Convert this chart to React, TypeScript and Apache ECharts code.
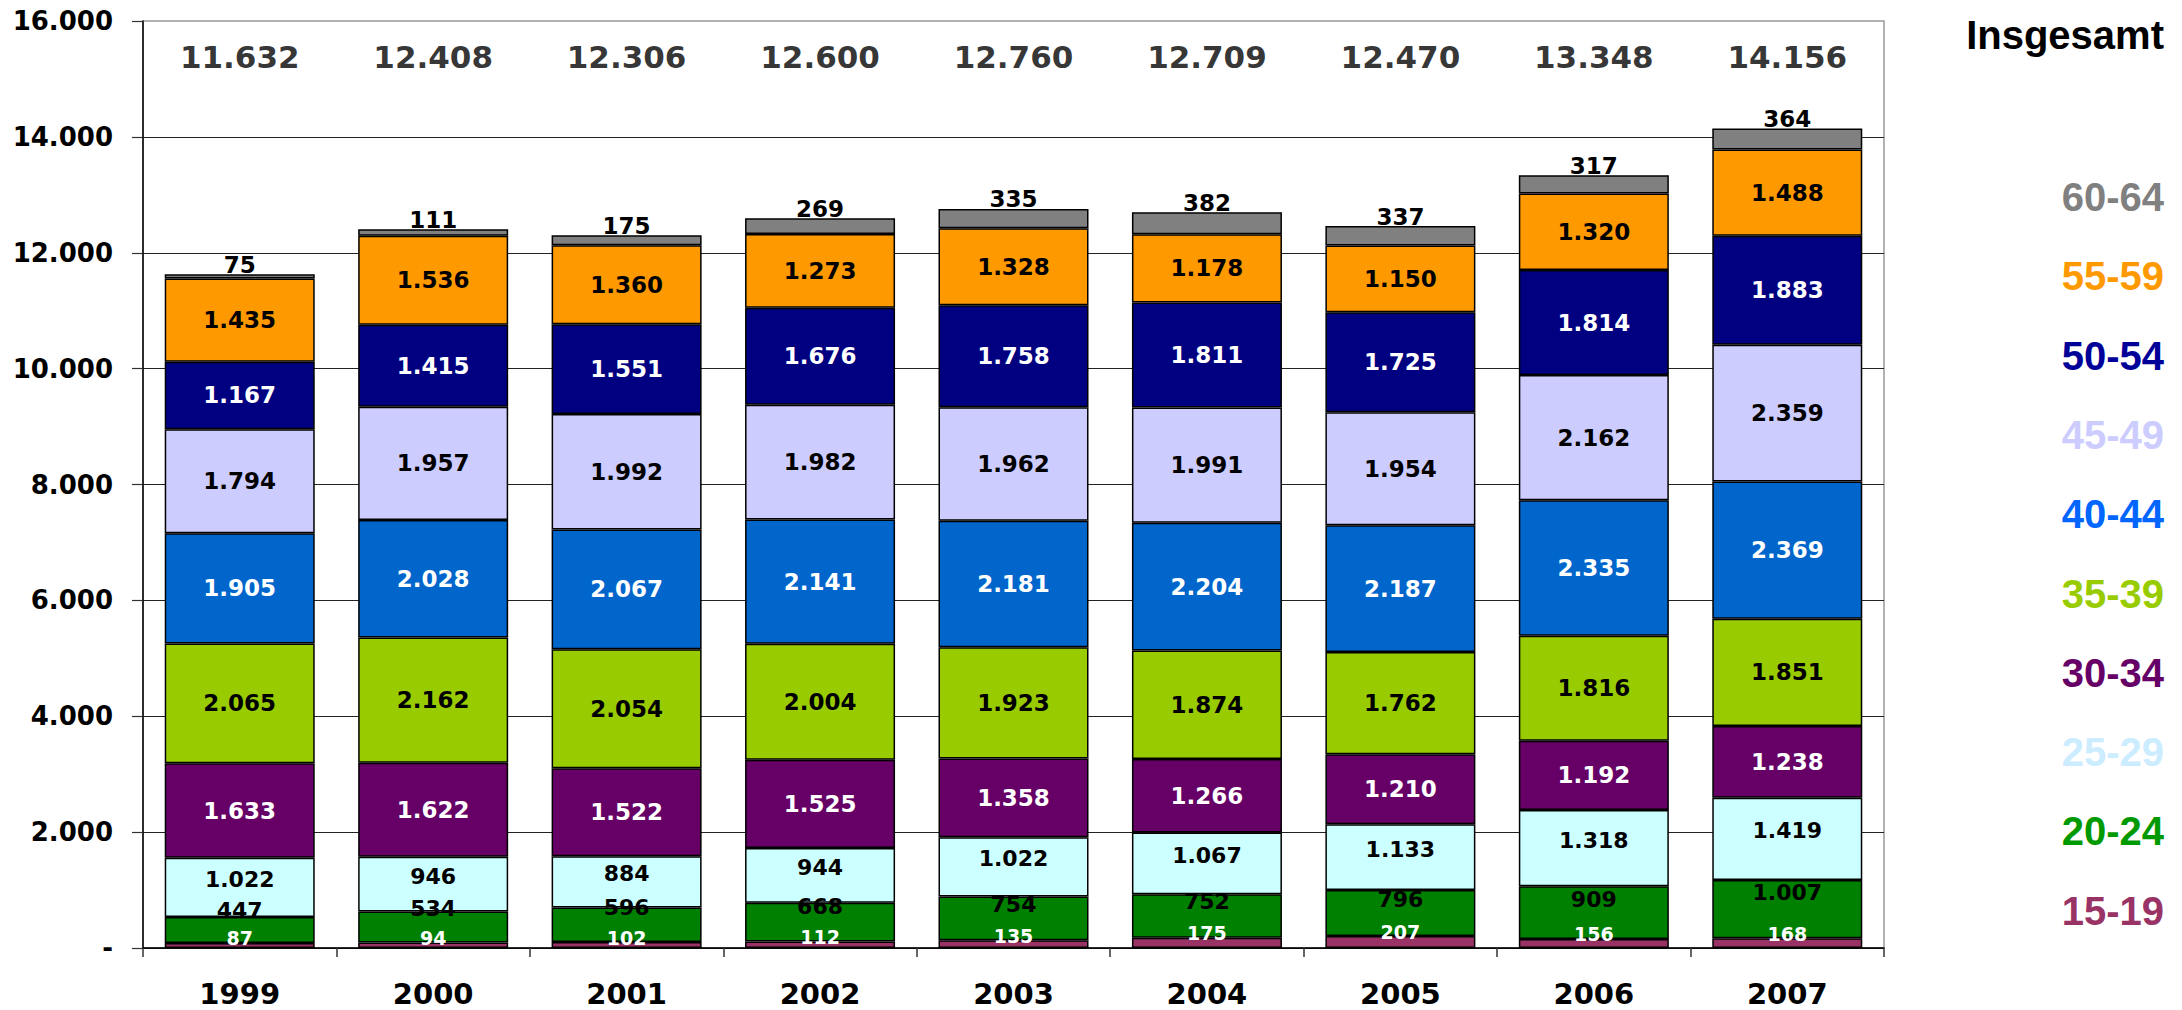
import React, { useEffect, useRef } from 'react';
import * as echarts from 'echarts';

// ---- data ----
const years = ['1999', '2000', '2001', '2002', '2003', '2004', '2005', '2006', '2007'];
const ageGroups = ['15-19', '20-24', '25-29', '30-34', '35-39', '40-44', '45-49', '50-54', '55-59', '60-64'];
const v15_19 = [87, 94, 102, 112, 135, 175, 207, 156, 168];
const v20_24 = [447, 534, 596, 668, 754, 752, 796, 909, 1007];
const v25_29 = [1022, 946, 884, 944, 1022, 1067, 1133, 1318, 1419];
const v30_34 = [1633, 1622, 1522, 1525, 1358, 1266, 1210, 1192, 1238];
const v35_39 = [2065, 2162, 2054, 2004, 1923, 1874, 1762, 1816, 1851];
const v40_44 = [1905, 2028, 2067, 2141, 2181, 2204, 2187, 2335, 2369];
const v45_49 = [1794, 1957, 1992, 1982, 1962, 1991, 1954, 2162, 2359];
const v50_54 = [1167, 1415, 1551, 1676, 1758, 1811, 1725, 1814, 1883];
const v55_59 = [1435, 1536, 1360, 1273, 1328, 1178, 1150, 1320, 1488];
const v60_64 = [75, 111, 175, 269, 335, 382, 337, 317, 364];
const totals = [11632, 12408, 12306, 12600, 12760, 12709, 12470, 13348, 14156];
const totalTitle = 'Insgesamt';
const yMin = 0;
const yMax = 16000;
const yInterval = 2000;

const seriesValues = [v15_19, v20_24, v25_29, v30_34, v35_39, v40_44, v45_49, v50_54, v55_59, v60_64];

// ---- styles ----
const barColors = ['#993366', '#008000', '#CCFFFF', '#660066', '#99CC00', '#0066CC', '#CCCCFF', '#000080', '#FF9900', '#808080'];
const legendColors = ['#993366', '#009900', '#CCECFF', '#660066', '#99CC00', '#0066FF', '#CCCCFF', '#000099', '#FF9900', '#808080'];
const labelColors = ['#fff', '#000', '#000', '#fff', '#000', '#fff', '#000', '#fff', '#000', '#000'];
const FONT = 'DejaVu Sans';

const fmt = (v: number) => (v === 0 ? '-' : String(Math.round(v)).replace(/\B(?=(\d{3})+(?!\d))/g, '.'));

function labelFor(i: number) {
  const base: any = {
    show: true,
    color: labelColors[i],
    fontFamily: FONT,
    fontWeight: 'bold',
    fontSize: 23,
    formatter: (p: any) => fmt(p.value),
  };
  if (i === 0) return { ...base, position: 'top', distance: -5, fontSize: 19 };
  if (i === 1) return { ...base, position: 'insideTop', distance: -6, fontSize: 22 };
  if (i === 2) return { ...base, position: 'inside', offset: [0, -8], fontSize: 22 };
  if (i === 9) return { ...base, position: 'top', distance: -2 };
  return { ...base, position: 'inside' };
}

// small 20-24 segments: label is pushed up towards the segment top edge
function dataFor(i: number) {
  const vals = seriesValues[i];
  if (i !== 1) return vals;
  return vals.map((v) => {
    const c = Math.max(-7, Math.min(13, (v - 600) * 0.05));
    return { value: v, label: { distance: c - 11 } };
  });
}

export default function App() {
  const ref = useRef<HTMLDivElement>(null);
  useEffect(() => {
    if (!ref.current) return;
    const chart = echarts.init(ref.current, null, { renderer: 'svg' });

    const barSeries = ageGroups.map((g, i) => ({
      name: g,
      type: 'bar',
      stack: 'total',
      barWidth: 150,
      data: dataFor(i),
      itemStyle: { color: barColors[i], borderColor: '#000', borderWidth: 1.5 },
      label: labelFor(i),
      emphasis: { disabled: true },
    }));

    const legendTop = 197;
    const legendStep = 79.3;
    const legendTexts = ageGroups
      .slice()
      .reverse()
      .map((g, k) => {
        const i = ageGroups.length - 1 - k;
        return {
          type: 'text',
          x: 2164,
          y: legendTop + k * legendStep,
          style: {
            text: g,
            fill: legendColors[i],
            font: 'bold 40px "Liberation Sans", Arial, sans-serif',
            textAlign: 'right',
            textVerticalAlign: 'middle',
          },
        };
      });

    chart.setOption({
      animation: false,
      backgroundColor: '#fff',
      grid: {
        left: 143,
        right: 298,
        top: 21,
        bottom: 62,
        show: true,
        borderColor: '#999',
        borderWidth: 1.5,
        backgroundColor: 'transparent',
      },
      xAxis: {
        type: 'category',
        data: years,
        axisLine: { lineStyle: { color: '#000', width: 1.5 } },
        axisTick: { show: true, length: 9, alignWithLabel: false, lineStyle: { color: '#333', width: 1.5 } },
        axisLabel: {
          color: '#000',
          fontFamily: FONT,
          fontWeight: 'bold',
          fontSize: 29,
          margin: 31,
        },
      },
      yAxis: {
        type: 'value',
        min: yMin,
        max: yMax,
        interval: yInterval,
        axisLine: { show: true, lineStyle: { color: '#000', width: 1.5 } },
        axisTick: { show: true, length: 11, lineStyle: { color: '#333', width: 1.2 } },
        splitLine: { show: true, showMaxLine: false, lineStyle: { color: '#222', width: 1 } },
        axisLabel: {
          color: '#000',
          fontFamily: FONT,
          fontWeight: 'bold',
          fontSize: 26,
          margin: 30,
          formatter: (v: number) => fmt(v),
        },
      },
      series: [
        ...barSeries,
        {
          name: totalTitle,
          type: 'scatter',
          symbolSize: 0,
          silent: true,
          data: totals.map((t, i) => [years[i], 15380]),
          label: {
            show: true,
            position: 'inside',
            color: '#000',
            fontFamily: FONT,
            fontWeight: 'bold',
            fontSize: 31,
            formatter: (p: any) => fmt(totals[p.dataIndex]),
          },
        },
      ],
      graphic: [
        {
          type: 'text',
          x: 2164,
          y: 35,
          style: {
            text: totalTitle,
            fill: '#000',
            font: 'bold 40px "Liberation Sans", Arial, sans-serif',
            textAlign: 'right',
            textVerticalAlign: 'middle',
          },
        },
        ...legendTexts,
      ],
    });

    return () => chart.dispose();
  }, []);

  return (
    <div
      ref={ref}
      style={{ position: 'fixed', left: 0, top: 0, width: 2182, height: 1010, background: '#fff' }}
    />
  );
}
